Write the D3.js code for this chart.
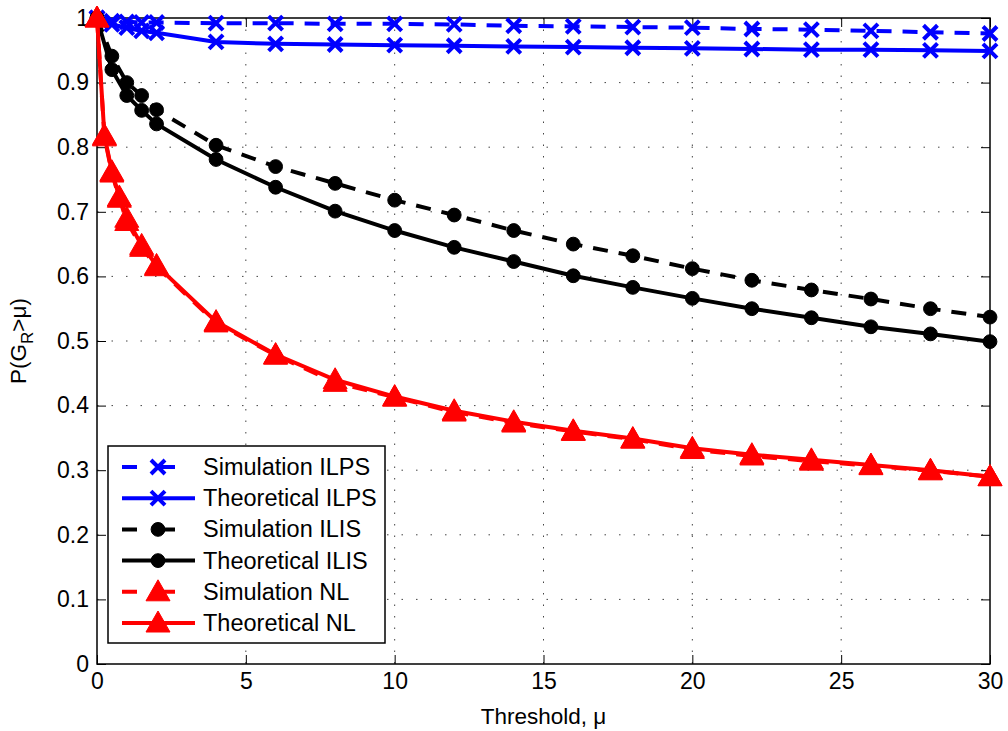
<!DOCTYPE html>
<html>
<head>
<meta charset="utf-8">
<script src="https://cdn.jsdelivr.net/npm/d3@7"></script>
<style>
    body { margin: 0; background: #fff; }
    svg { font-family: "Liberation Sans", Arial, sans-serif; }
</style>
</head>
<body>
<div id="chart"></div>
<script>
// threshold values (mu)
const muValues = [0, 0.5, 1, 1.5, 2, 4, 6, 8, 10, 12, 14, 16, 18, 20, 22, 24, 26, 28, 30];
const muValuesNL = [0, 0.25, 0.5, 0.75, 1, 1.5, 2, 4, 6, 8, 10, 12, 14, 16, 18, 20, 22, 24, 26, 28, 30];

const simILPS = [1, 0.995, 0.994, 0.993, 0.993, 0.992, 0.992, 0.991, 0.991, 0.990, 0.988, 0.987, 0.986, 0.985, 0.983, 0.982, 0.980, 0.978, 0.976];
const theoILPS = [1, 0.99, 0.985, 0.98, 0.977, 0.963, 0.960, 0.959, 0.958, 0.957, 0.956, 0.955, 0.954, 0.953, 0.952, 0.951, 0.951, 0.950, 0.949];
const simILIS = [1, 0.941, 0.900, 0.880, 0.858, 0.803, 0.770, 0.744, 0.718, 0.695, 0.671, 0.650, 0.632, 0.612, 0.594, 0.579, 0.565, 0.550, 0.537];
const theoILIS = [1, 0.920, 0.880, 0.857, 0.836, 0.781, 0.738, 0.701, 0.671, 0.645, 0.623, 0.601, 0.583, 0.566, 0.550, 0.536, 0.522, 0.511, 0.499];
const simNL = [1, 0.816, 0.760, 0.721, 0.685, 0.645, 0.615, 0.528, 0.478, 0.436, 0.413, 0.390, 0.373, 0.360, 0.348, 0.332, 0.322, 0.314, 0.307, 0.299, 0.290];
const theoNL = [1, 0.818, 0.762, 0.723, 0.690, 0.648, 0.617, 0.530, 0.479, 0.440, 0.414, 0.392, 0.375, 0.361, 0.349, 0.334, 0.324, 0.316, 0.308, 0.300, 0.290];

const xTicks = [0, 5, 10, 15, 20, 25, 30];
const yTicks = [0, 0.1, 0.2, 0.3, 0.4, 0.5, 0.6, 0.7, 0.8, 0.9, 1];

const seriesList = [
    {name: "Simulation ILPS", x: muValues, y: simILPS, color: "#0000ff", dashed: true, marker: "x"},
    {name: "Theoretical ILPS", x: muValues, y: theoILPS, color: "#0000ff", dashed: false, marker: "x"},
    {name: "Simulation ILIS", x: muValues, y: simILIS, color: "#000000", dashed: true, marker: "o"},
    {name: "Theoretical ILIS", x: muValues, y: theoILIS, color: "#000000", dashed: false, marker: "o"},
    {name: "Simulation NL", x: muValuesNL, y: simNL, color: "#ff0000", dashed: true, marker: "^"},
    {name: "Theoretical NL", x: muValuesNL, y: theoNL, color: "#ff0000", dashed: false, marker: "^"}
];

const width = 1008, height = 731;
const margin = {top: 18, right: 18, bottom: 67, left: 97};
const w = width - margin.left - margin.right;
const h = height - margin.top - margin.bottom;

const svg = d3.select("#chart").append("svg")
    .attr("width", width)
    .attr("height", height);

const g = svg.append("g")
    .attr("transform", "translate(" + margin.left + "," + margin.top + ")");

const x = d3.scaleLinear().domain([0, 30]).range([0, w]);
const y = d3.scaleLinear().domain([0, 1]).range([h, 0]);

// dotted grid
g.append("g").selectAll("line")
    .data(xTicks.slice(1, -1))
    .join("line")
    .attr("x1", d => x(d)).attr("x2", d => x(d))
    .attr("y1", 0).attr("y2", h)
    .attr("stroke", "#444")
    .attr("stroke-width", 1)
    .attr("stroke-dasharray", "1.5,10");

g.append("g").selectAll("line")
    .data(yTicks.slice(1, -1))
    .join("line")
    .attr("x1", 0).attr("x2", w)
    .attr("y1", d => y(d)).attr("y2", d => y(d))
    .attr("stroke", "#444")
    .attr("stroke-width", 1)
    .attr("stroke-dasharray", "1.5,13");

// axes, ticks inside
const tickLen = 9;
const axisBottom = g.append("g").attr("transform", "translate(0," + h + ")")
    .call(d3.axisBottom(x).tickValues(xTicks).tickSize(-tickLen).tickPadding(9).tickFormat(d3.format("d")));
const axisLeft = g.append("g")
    .call(d3.axisLeft(y).tickValues(yTicks).tickSize(-tickLen).tickPadding(8).tickFormat(d => d === 0 || d === 1 ? d3.format("d")(d) : d3.format(".1f")(d)));
const axisTop = g.append("g")
    .call(d3.axisTop(x).tickValues(xTicks).tickSize(-tickLen).tickFormat(""));
const axisRight = g.append("g").attr("transform", "translate(" + w + ",0)")
    .call(d3.axisRight(y).tickValues(yTicks).tickSize(-tickLen).tickFormat(""));

[axisBottom, axisLeft, axisTop, axisRight].forEach(a => {
    a.select(".domain").remove();
    a.selectAll("line").attr("stroke", "#000");
    a.selectAll("text").attr("font-size", 23).attr("fill", "#000")
        .attr("font-family", "Liberation Sans, Arial, sans-serif");
});

g.append("rect")
    .attr("width", w).attr("height", h)
    .attr("fill", "none")
    .attr("stroke", "#000")
    .attr("stroke-width", 1.5);

// marker shapes
function markerPath(type) {
    if (type === "x") return "M-7,-7L7,7M-7,7L7,-7";
    if (type === "^") return "M0,-12L12,9L-12,9Z";
    return d3.symbol().type(d3.symbolCircle).size(150)();
}

function drawMarker(sel, s) {
    sel.append("path")
        .attr("d", markerPath(s.marker))
        .attr("fill", s.marker === "x" ? "none" : s.color)
        .attr("stroke", s.color)
        .attr("stroke-width", s.marker === "x" ? 4 : 1);
}

const line = d3.line()
    .x(d => x(d[0]))
    .y(d => y(d[1]));

const plot = g.append("g");

seriesList.forEach(s => {
    const pts = s.x.map((v, i) => [v, s.y[i]]);
    const sg = plot.append("g");
    sg.append("path")
        .datum(pts)
        .attr("d", line)
        .attr("fill", "none")
        .attr("stroke", s.color)
        .attr("stroke-width", 4)
        .attr("stroke-dasharray", s.dashed ? "15,11" : null);
    sg.selectAll(".mk")
        .data(pts)
        .join("g")
        .attr("class", "mk")
        .attr("transform", d => "translate(" + x(d[0]) + "," + y(d[1]) + ")")
        .each(function() { drawMarker(d3.select(this), s); });
});

// legend
const legend = g.append("g").attr("transform", "translate(11,428)");
legend.append("rect")
    .attr("width", 277).attr("height", 197)
    .attr("fill", "#fff")
    .attr("stroke", "#000")
    .attr("stroke-width", 1.5);

seriesList.forEach((s, i) => {
    const row = legend.append("g").attr("transform", "translate(0," + (21 + i * 31.2) + ")");
    row.append("line")
        .attr("x1", 14).attr("x2", 87)
        .attr("stroke", s.color)
        .attr("stroke-width", 4)
        .attr("stroke-dasharray", s.dashed ? "15,23" : null);
    const mk = row.append("g").attr("transform", "translate(50,0)");
    drawMarker(mk, s);
    row.append("text")
        .attr("x", 95).attr("y", 8)
        .attr("font-size", 23.5)
        .text(s.name);
});

// axis labels
g.append("text")
    .attr("x", w / 2).attr("y", h + 60)
    .attr("text-anchor", "middle")
    .attr("font-size", 22.5)
    .text("Threshold, \u03bc");

const yl = svg.append("text")
    .attr("transform", "translate(26," + (margin.top + h / 2) + ") rotate(-90)")
    .attr("text-anchor", "middle")
    .attr("font-size", 22.5);
yl.append("tspan").text("P(G");
yl.append("tspan").attr("dy", 7).attr("font-size", 17).text("R");
yl.append("tspan").attr("dy", -7).text(">\u03bc)");
</script>
</body>
</html>
